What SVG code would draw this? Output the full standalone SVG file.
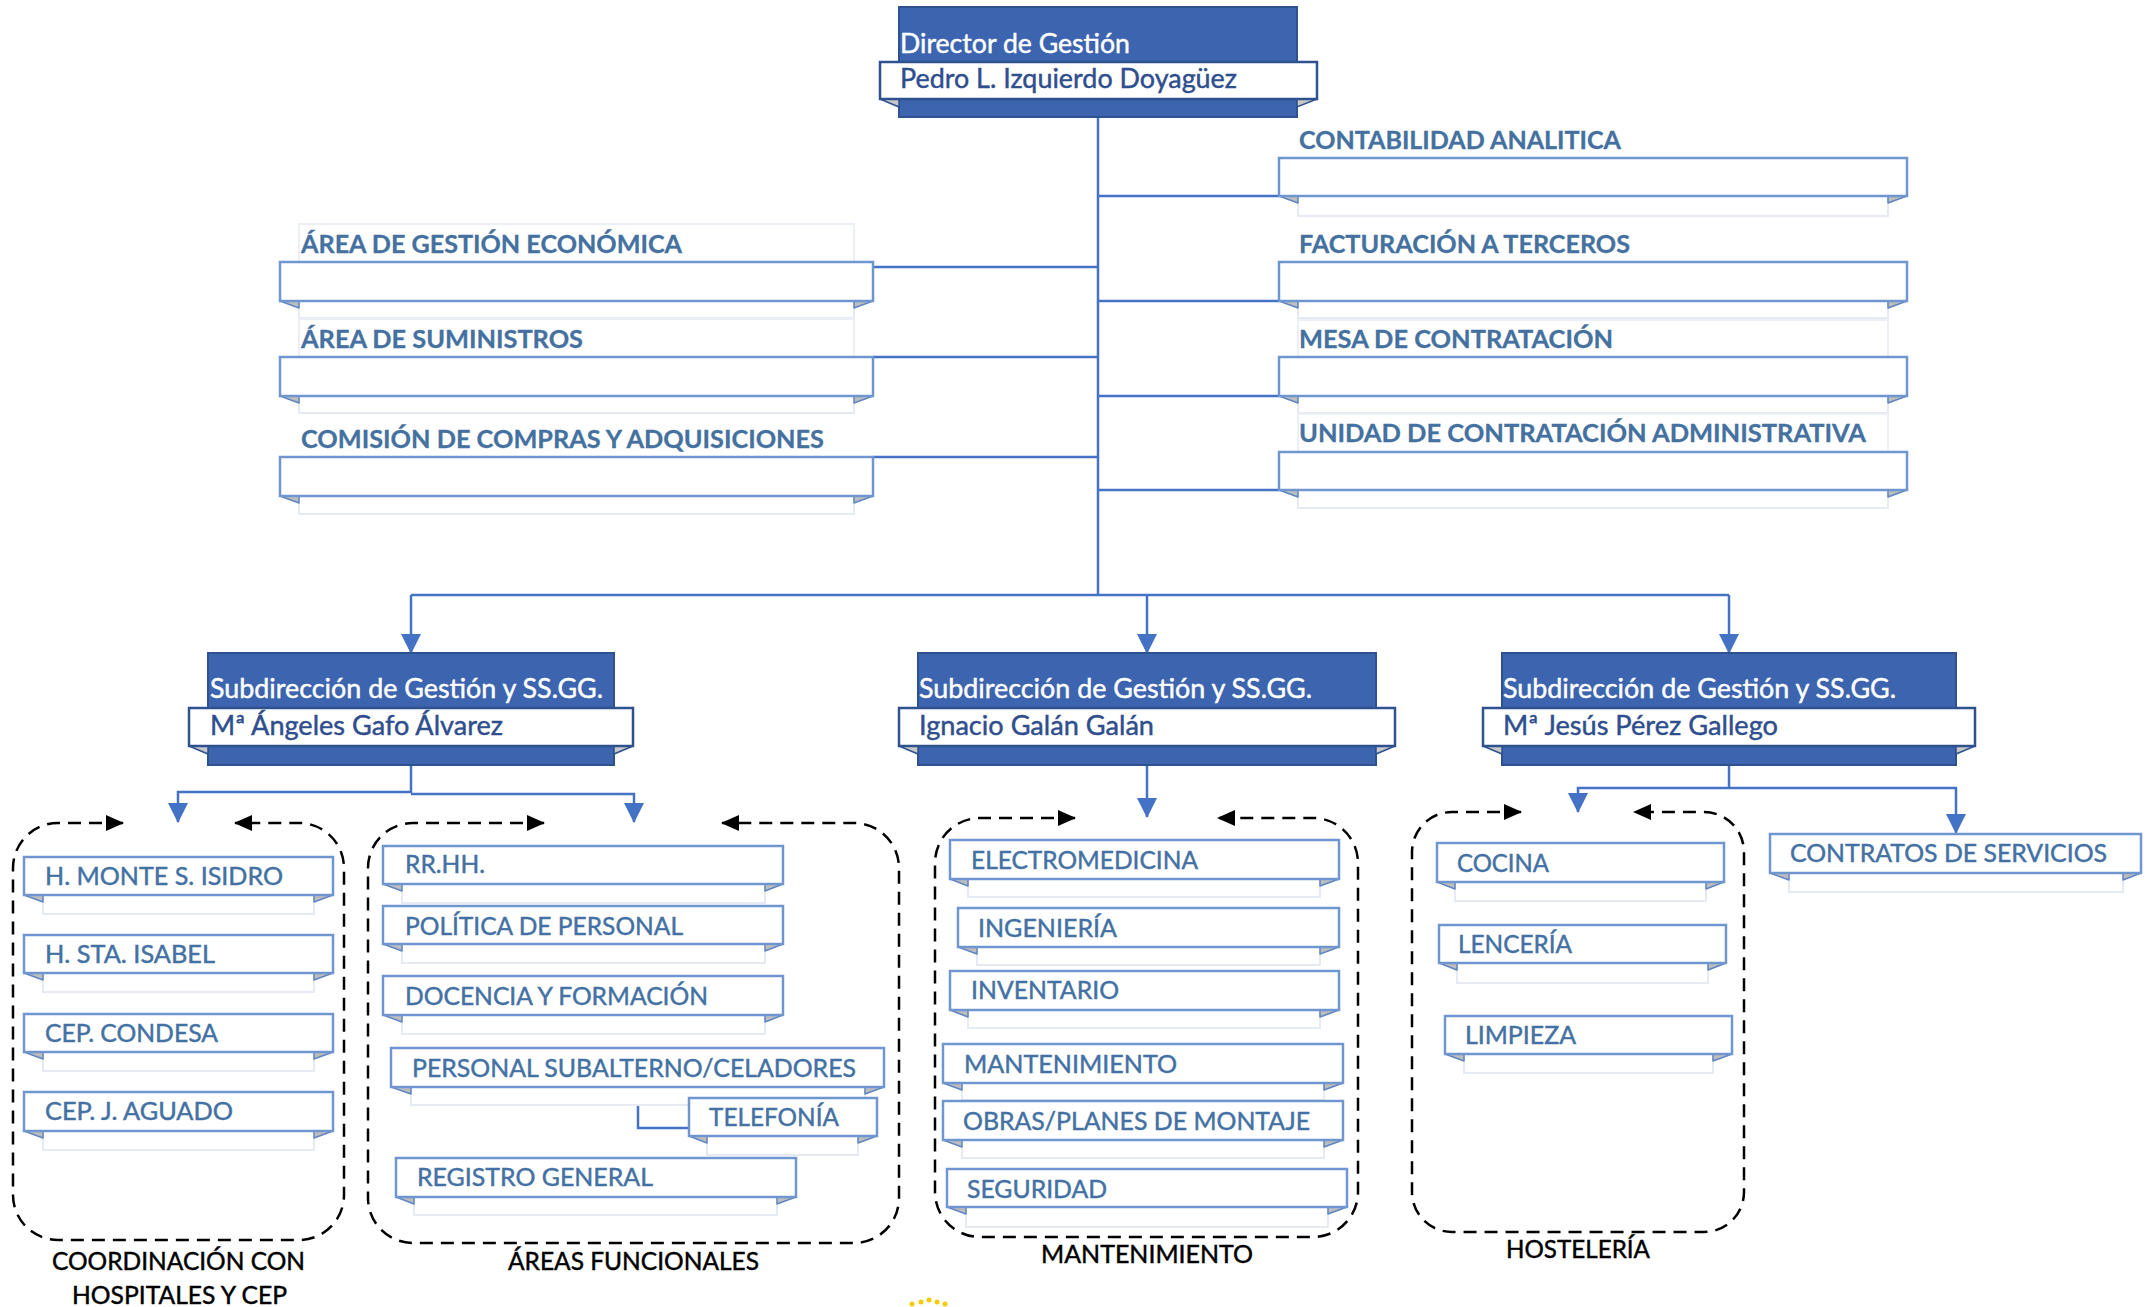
<svg xmlns="http://www.w3.org/2000/svg" width="2155" height="1307" viewBox="0 0 2155 1307">
<style>
text{font-family:Lato,"Open Sans","Liberation Sans",sans-serif;stroke-width:0.45}
.band{fill:#fff;stroke:#7096cf;stroke-width:2.5}
.under{fill:#fff;stroke:#e6eaf3;stroke-width:2}
.lbl{fill:#fff;stroke:#eceff6;stroke-width:2}
.fold{fill:#bdbdbd;stroke:#5f86c2;stroke-width:1.5;stroke-linejoin:round}
.itm{font-size:25px;fill:#4471a3;stroke:#4471a3}
.hd{font-size:25px;font-weight:bold;fill:#44719f;stroke:#44719f;stroke-width:0.3}
.grp{font-size:25px;fill:#000;stroke:#000}
.dark{fill:#3d64ae;stroke:#2f528f;stroke-width:2}
.dband{fill:#fff;stroke:#2f528f;stroke-width:2.5}
.dfold{fill:#c8c8c8;stroke:#2f528f;stroke-width:1.5}
.wt{font-size:27px;fill:#fff;stroke:#fff}
.nm{font-size:27px;fill:#2f4e8e;stroke:#2f4e8e}
.conn{stroke:#4472c4;stroke-width:2.5;fill:none}
.arr{stroke:#4472c4;stroke-width:2.5;fill:none;marker-end:url(#ba)}
.dash{stroke:#000;stroke-width:2.5;stroke-dasharray:13 8;fill:none;marker-start:url(#ka);marker-end:url(#ka)}
</style>
<defs>
<marker id="ba" markerUnits="userSpaceOnUse" markerWidth="20" markerHeight="20" refX="19" refY="10" orient="auto"><path d="M0,0 L20,10 L0,20 z" fill="#4472c4"/></marker>
<marker id="ka" markerUnits="userSpaceOnUse" markerWidth="18" markerHeight="16" refX="17" refY="8" orient="auto-start-reverse"><path d="M0,0 L18,8 L0,16 z" fill="#000"/></marker>
</defs>
<rect width="2155" height="1307" fill="#fff"/>

<g id="connectors">
<path class="conn" d="M1098 117 V595"/>
<path class="conn" d="M873 267 H1098 M873 357 H1098 M873 457 H1098"/>
<path class="conn" d="M1098 196 H1279 M1098 301 H1279 M1098 396 H1279 M1098 490 H1279"/>
<path class="conn" d="M411 595 H1729"/>
<path class="arr" d="M411 595 V653"/>
<path class="arr" d="M1147 595 V653"/>
<path class="arr" d="M1729 595 V653"/>
<path class="conn" d="M411 765 V793"/>
<path class="arr" d="M411 792 H178 V822"/>
<path class="arr" d="M411 794 H634 V822"/>
<path class="arr" d="M1147 765 V817"/>
<path class="conn" d="M1729 765 V788"/>
<path class="arr" d="M1729 788 H1578 V812"/>
<path class="arr" d="M1729 788 H1956 V833"/>
<path class="conn" d="M638 1105 V1128 H689"/>
</g>

<g id="director">
<rect class="dark" x="899" y="7" width="398" height="110"/>
<polygon class="dfold" points="880,99 899,99 899,107"/>
<polygon class="dfold" points="1317,99 1297,99 1297,107"/>
<rect class="dband" x="880" y="62" width="437" height="37"/>
<text class="wt" x="900" y="53" font-size="28" textLength="230" lengthAdjust="spacingAndGlyphs">Director de Gestión</text>
<text class="nm" x="900" y="88" font-size="28" textLength="337" lengthAdjust="spacingAndGlyphs">Pedro L. Izquierdo Doyagüez</text>
</g>

<g id="area-gestion-economica">
<rect class="lbl" x="299" y="224" width="555" height="38"/>
<rect class="under" x="299" y="301" width="555" height="17"/>
<polygon class="fold" points="280,301 299,301 299,308"/><polygon class="fold" points="873,301 854,301 854,308"/>
<rect class="band" x="280" y="262" width="593" height="39"/>
<text class="hd" x="301" y="253" textLength="381" lengthAdjust="spacingAndGlyphs">ÁREA DE GESTIÓN ECONÓMICA</text>
</g>
<g id="area-suministros">
<rect class="lbl" x="299" y="319" width="555" height="38"/>
<rect class="under" x="299" y="396" width="555" height="17"/>
<polygon class="fold" points="280,396 299,396 299,403"/><polygon class="fold" points="873,396 854,396 854,403"/>
<rect class="band" x="280" y="357" width="593" height="39"/>
<text class="hd" x="301" y="348" textLength="282" lengthAdjust="spacingAndGlyphs">ÁREA DE SUMINISTROS</text>
</g>
<g id="comision-compras">
<rect class="under" x="299" y="496" width="555" height="18"/>
<polygon class="fold" points="280,496 299,496 299,503"/><polygon class="fold" points="873,496 854,496 854,503"/>
<rect class="band" x="280" y="457" width="593" height="39"/>
<text class="hd" x="301" y="448" textLength="523" lengthAdjust="spacingAndGlyphs">COMISIÓN DE COMPRAS Y ADQUISICIONES</text>
</g>

<g id="contabilidad-analitica">
<rect class="under" x="1298" y="196" width="590" height="20"/>
<polygon class="fold" points="1279,196 1298,196 1298,203"/><polygon class="fold" points="1907,196 1888,196 1888,203"/>
<rect class="band" x="1279" y="158" width="628" height="38"/>
<text class="hd" x="1299" y="149" textLength="322" lengthAdjust="spacingAndGlyphs">CONTABILIDAD ANALITICA</text>
</g>
<g id="facturacion-terceros">
<rect class="under" x="1298" y="301" width="590" height="17"/>
<polygon class="fold" points="1279,301 1298,301 1298,308"/><polygon class="fold" points="1907,301 1888,301 1888,308"/>
<rect class="band" x="1279" y="262" width="628" height="39"/>
<text class="hd" x="1299" y="253" textLength="331" lengthAdjust="spacingAndGlyphs">FACTURACIÓN A TERCEROS</text>
</g>
<g id="mesa-contratacion">
<rect class="lbl" x="1298" y="320" width="590" height="37"/>
<rect class="under" x="1298" y="396" width="590" height="17"/>
<polygon class="fold" points="1279,396 1298,396 1298,403"/><polygon class="fold" points="1907,396 1888,396 1888,403"/>
<rect class="band" x="1279" y="357" width="628" height="39"/>
<text class="hd" x="1299" y="348" textLength="314" lengthAdjust="spacingAndGlyphs">MESA DE CONTRATACIÓN</text>
</g>
<g id="unidad-contratacion">
<rect class="lbl" x="1298" y="414" width="590" height="38"/>
<rect class="under" x="1298" y="490" width="590" height="18"/>
<polygon class="fold" points="1279,490 1298,490 1298,497"/><polygon class="fold" points="1907,490 1888,490 1888,497"/>
<rect class="band" x="1279" y="452" width="628" height="38"/>
<text class="hd" x="1299" y="442" textLength="567" lengthAdjust="spacingAndGlyphs">UNIDAD DE CONTRATACIÓN ADMINISTRATIVA</text>
</g>

<g id="sub-1">
<rect class="dark" x="208" y="653" width="406" height="112"/>
<polygon class="dfold" points="189,746 208,746 208,754"/><polygon class="dfold" points="633,746 614,746 614,754"/>
<rect class="dband" x="189" y="708" width="444" height="38"/>
<text class="wt" x="210" y="698" textLength="393" lengthAdjust="spacingAndGlyphs">Subdirección de Gestión y SS.GG.</text>
<text class="nm" x="210" y="735" textLength="293" lengthAdjust="spacingAndGlyphs">Mª Ángeles Gafo Álvarez</text>
</g>
<g id="sub-2">
<rect class="dark" x="918" y="653" width="458" height="112"/>
<polygon class="dfold" points="899,746 918,746 918,754"/><polygon class="dfold" points="1395,746 1376,746 1376,754"/>
<rect class="dband" x="899" y="708" width="496" height="38"/>
<text class="wt" x="919" y="698" textLength="393" lengthAdjust="spacingAndGlyphs">Subdirección de Gestión y SS.GG.</text>
<text class="nm" x="919" y="735" textLength="235" lengthAdjust="spacingAndGlyphs">Ignacio Galán Galán</text>
</g>
<g id="sub-3">
<rect class="dark" x="1502" y="653" width="454" height="112"/>
<polygon class="dfold" points="1483,746 1502,746 1502,754"/><polygon class="dfold" points="1975,746 1956,746 1956,754"/>
<rect class="dband" x="1483" y="708" width="492" height="38"/>
<text class="wt" x="1503" y="698" textLength="393" lengthAdjust="spacingAndGlyphs">Subdirección de Gestión y SS.GG.</text>
<text class="nm" x="1503" y="735" textLength="275" lengthAdjust="spacingAndGlyphs">Mª Jesús Pérez Gallego</text>
</g>

<g id="grupo-coordinacion">
<path class="dash" d="M123 823 H58 A45 45 0 0 0 13 868 V1195 A45 45 0 0 0 58 1240 H299 A45 45 0 0 0 344 1195 V868 A45 45 0 0 0 299 823 H235"/>
<text class="grp" x="52" y="1270" textLength="253" lengthAdjust="spacingAndGlyphs">COORDINACIÓN CON</text>
<text class="grp" x="72" y="1304" textLength="215" lengthAdjust="spacingAndGlyphs">HOSPITALES Y CEP</text>
</g>
<g id="h-monte">
<rect class="under" x="43" y="895" width="271" height="19"/>
<polygon class="fold" points="24,895 43,895 43,902"/><polygon class="fold" points="333,895 314,895 314,902"/>
<rect class="band" x="24" y="857" width="309" height="38"/>
<text class="itm" x="45" y="885" textLength="238" lengthAdjust="spacingAndGlyphs">H. MONTE S. ISIDRO</text>
</g>
<g id="h-sta-isabel">
<rect class="under" x="43" y="973" width="271" height="19"/>
<polygon class="fold" points="24,973 43,973 43,980"/><polygon class="fold" points="333,973 314,973 314,980"/>
<rect class="band" x="24" y="935" width="309" height="38"/>
<text class="itm" x="45" y="963" textLength="170" lengthAdjust="spacingAndGlyphs">H. STA. ISABEL</text>
</g>
<g id="cep-condesa">
<rect class="under" x="43" y="1052" width="271" height="19"/>
<polygon class="fold" points="24,1052 43,1052 43,1059"/><polygon class="fold" points="333,1052 314,1052 314,1059"/>
<rect class="band" x="24" y="1014" width="309" height="38"/>
<text class="itm" x="45" y="1042" textLength="173" lengthAdjust="spacingAndGlyphs">CEP. CONDESA</text>
</g>
<g id="cep-aguado">
<rect class="under" x="43" y="1131" width="271" height="19"/>
<polygon class="fold" points="24,1131 43,1131 43,1138"/><polygon class="fold" points="333,1131 314,1131 314,1138"/>
<rect class="band" x="24" y="1092" width="309" height="39"/>
<text class="itm" x="45" y="1120" textLength="188" lengthAdjust="spacingAndGlyphs">CEP. J. AGUADO</text>
</g>

<g id="grupo-areas-funcionales">
<path class="dash" d="M544 823 H413 A45 45 0 0 0 368 868 V1198 A45 45 0 0 0 413 1243 H854 A45 45 0 0 0 899 1198 V868 A45 45 0 0 0 854 823 H722"/>
<text class="grp" x="508" y="1270" textLength="251" lengthAdjust="spacingAndGlyphs">ÁREAS FUNCIONALES</text>
</g>
<g id="rrhh">
<rect class="under" x="402" y="884" width="363" height="19"/>
<polygon class="fold" points="383,884 402,884 402,891"/><polygon class="fold" points="783,884 765,884 765,891"/>
<rect class="band" x="383" y="846" width="400" height="38"/>
<text class="itm" x="405" y="873" textLength="80" lengthAdjust="spacingAndGlyphs">RR.HH.</text>
</g>
<g id="politica-personal">
<rect class="under" x="402" y="944" width="363" height="19"/>
<polygon class="fold" points="383,944 402,944 402,951"/><polygon class="fold" points="783,944 765,944 765,951"/>
<rect class="band" x="383" y="906" width="400" height="38"/>
<text class="itm" x="405" y="935" textLength="278" lengthAdjust="spacingAndGlyphs">POLÍTICA DE PERSONAL</text>
</g>
<g id="docencia-formacion">
<rect class="under" x="402" y="1015" width="363" height="19"/>
<polygon class="fold" points="383,1015 402,1015 402,1022"/><polygon class="fold" points="783,1015 765,1015 765,1022"/>
<rect class="band" x="383" y="976" width="400" height="39"/>
<text class="itm" x="405" y="1005" textLength="303" lengthAdjust="spacingAndGlyphs">DOCENCIA Y FORMACIÓN</text>
</g>
<g id="personal-subalterno">
<rect class="under" x="411" y="1087" width="454" height="18"/>
<polygon class="fold" points="391,1087 411,1087 411,1094"/><polygon class="fold" points="884,1087 865,1087 865,1094"/>
<rect class="band" x="391" y="1048" width="493" height="39"/>
<text class="itm" x="412" y="1077" textLength="444" lengthAdjust="spacingAndGlyphs">PERSONAL SUBALTERNO/CELADORES</text>
</g>
<g id="telefonia">
<rect class="under" x="707" y="1136" width="151" height="19"/>
<polygon class="fold" points="689,1136 707,1136 707,1143"/><polygon class="fold" points="877,1136 858,1136 858,1143"/>
<rect class="band" x="689" y="1098" width="188" height="38"/>
<text class="itm" x="709" y="1126" textLength="130" lengthAdjust="spacingAndGlyphs">TELEFONÍA</text>
</g>
<g id="registro-general">
<rect class="under" x="414" y="1197" width="363" height="18"/>
<polygon class="fold" points="396,1197 414,1197 414,1204"/><polygon class="fold" points="796,1197 777,1197 777,1204"/>
<rect class="band" x="396" y="1158" width="400" height="39"/>
<text class="itm" x="417" y="1186" textLength="236" lengthAdjust="spacingAndGlyphs">REGISTRO GENERAL</text>
</g>

<g id="grupo-mantenimiento">
<path class="dash" d="M1075 818 H980 A45 45 0 0 0 935 863 V1192 A45 45 0 0 0 980 1237 H1313 A45 45 0 0 0 1358 1192 V863 A45 45 0 0 0 1313 818 H1218"/>
<text class="grp" x="1041" y="1263" textLength="212" lengthAdjust="spacingAndGlyphs">MANTENIMIENTO</text>
</g>
<g id="electromedicina">
<rect class="under" x="968" y="879" width="352" height="18"/>
<polygon class="fold" points="950,879 968,879 968,886"/><polygon class="fold" points="1339,879 1320,879 1320,886"/>
<rect class="band" x="950" y="840" width="389" height="39"/>
<text class="itm" x="971" y="869" textLength="227" lengthAdjust="spacingAndGlyphs">ELECTROMEDICINA</text>
</g>
<g id="ingenieria">
<rect class="under" x="977" y="947" width="343" height="18"/>
<polygon class="fold" points="958,947 977,947 977,954"/><polygon class="fold" points="1339,947 1320,947 1320,954"/>
<rect class="band" x="958" y="908" width="381" height="39"/>
<text class="itm" x="978" y="937" textLength="139" lengthAdjust="spacingAndGlyphs">INGENIERÍA</text>
</g>
<g id="inventario">
<rect class="under" x="968" y="1010" width="352" height="18"/>
<polygon class="fold" points="950,1010 968,1010 968,1017"/><polygon class="fold" points="1339,1010 1320,1010 1320,1017"/>
<rect class="band" x="950" y="971" width="389" height="39"/>
<text class="itm" x="971" y="999" textLength="148" lengthAdjust="spacingAndGlyphs">INVENTARIO</text>
</g>
<g id="mantenimiento">
<rect class="under" x="962" y="1083" width="362" height="17"/>
<polygon class="fold" points="943,1083 962,1083 962,1090"/><polygon class="fold" points="1343,1083 1324,1083 1324,1090"/>
<rect class="band" x="943" y="1044" width="400" height="39"/>
<text class="itm" x="964" y="1073" textLength="213" lengthAdjust="spacingAndGlyphs">MANTENIMIENTO</text>
</g>
<g id="obras-planes">
<rect class="under" x="962" y="1140" width="362" height="18"/>
<polygon class="fold" points="943,1140 962,1140 962,1147"/><polygon class="fold" points="1343,1140 1324,1140 1324,1147"/>
<rect class="band" x="943" y="1101" width="400" height="39"/>
<text class="itm" x="963" y="1130" textLength="347" lengthAdjust="spacingAndGlyphs">OBRAS/PLANES DE MONTAJE</text>
</g>
<g id="seguridad">
<rect class="under" x="966" y="1207" width="362" height="20"/>
<polygon class="fold" points="947,1207 966,1207 966,1214"/><polygon class="fold" points="1347,1207 1328,1207 1328,1214"/>
<rect class="band" x="947" y="1169" width="400" height="38"/>
<text class="itm" x="967" y="1198" textLength="140" lengthAdjust="spacingAndGlyphs">SEGURIDAD</text>
</g>

<g id="grupo-hosteleria">
<path class="dash" d="M1521 812 H1452 A40 40 0 0 0 1412 852 V1192 A40 40 0 0 0 1452 1232 H1704 A40 40 0 0 0 1744 1192 V852 A40 40 0 0 0 1704 812 H1634"/>
<text class="grp" x="1506" y="1258" textLength="144" lengthAdjust="spacingAndGlyphs">HOSTELERÍA</text>
</g>
<g id="cocina">
<rect class="under" x="1455" y="882" width="251" height="19"/>
<polygon class="fold" points="1437,882 1455,882 1455,889"/><polygon class="fold" points="1724,882 1706,882 1706,889"/>
<rect class="band" x="1437" y="843" width="287" height="39"/>
<text class="itm" x="1457" y="872" textLength="92" lengthAdjust="spacingAndGlyphs">COCINA</text>
</g>
<g id="lenceria">
<rect class="under" x="1457" y="963" width="251" height="20"/>
<polygon class="fold" points="1439,963 1457,963 1457,970"/><polygon class="fold" points="1726,963 1708,963 1708,970"/>
<rect class="band" x="1439" y="925" width="287" height="38"/>
<text class="itm" x="1458" y="953" textLength="114" lengthAdjust="spacingAndGlyphs">LENCERÍA</text>
</g>
<g id="limpieza">
<rect class="under" x="1464" y="1054" width="249" height="19"/>
<polygon class="fold" points="1445,1054 1464,1054 1464,1061"/><polygon class="fold" points="1732,1054 1713,1054 1713,1061"/>
<rect class="band" x="1445" y="1016" width="287" height="38"/>
<text class="itm" x="1465" y="1044" textLength="111" lengthAdjust="spacingAndGlyphs">LIMPIEZA</text>
</g>
<g id="contratos-servicios">
<rect class="under" x="1789" y="873" width="334" height="19"/>
<polygon class="fold" points="1770,873 1789,873 1789,880"/><polygon class="fold" points="2141,873 2123,873 2123,880"/>
<rect class="band" x="1770" y="834" width="371" height="39"/>
<text class="itm" x="1790" y="862" textLength="317" lengthAdjust="spacingAndGlyphs">CONTRATOS DE SERVICIOS</text>
</g>

<g id="logo-fragment" fill="#f2cc00">
<circle cx="912" cy="1304" r="2.5"/><circle cx="921" cy="1302" r="2.5"/><circle cx="929" cy="1300" r="2.5"/><circle cx="937" cy="1302" r="2.5"/><circle cx="945" cy="1304" r="2.5"/>
</g>
</svg>
